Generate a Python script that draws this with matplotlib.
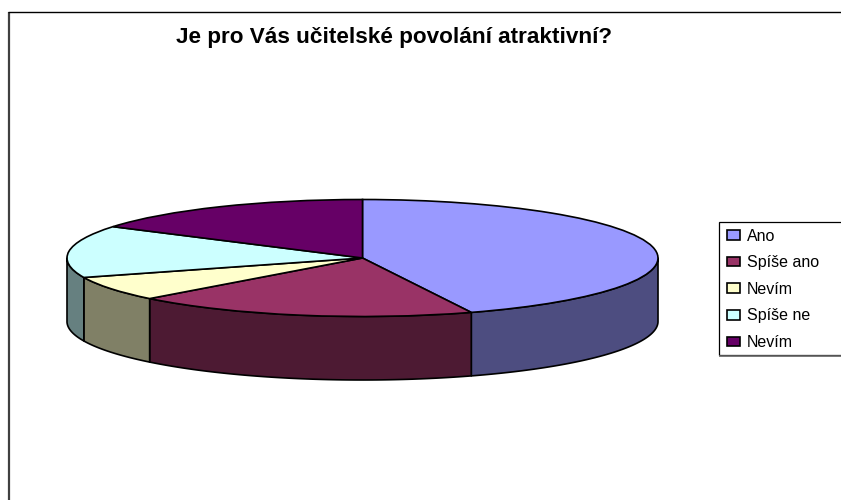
import numpy as np
import matplotlib
matplotlib.use('Agg')
import matplotlib.pyplot as plt
from matplotlib.lines import Line2D
from matplotlib.patches import Rectangle

plt.rcParams['font.family'] = ['Liberation Sans', 'DejaVu Sans']

labels = ['Ano', 'Spíše ano', 'Nevím', 'Spíše ne', 'Nevím']
values = [44, 18.8, 6.8, 14.4, 16]

top_colors = ['#9999FF', '#993366', '#FFFFCC', '#CCFFFF', '#660066']
side_colors = ['#4D4D80', '#4D1A33', '#808066', '#668080', '#330033']

W, H = 841, 500
CX, CY = 362.5, 258.0
RX, RY = 295.5, 58.5
DEPTH = 63.5 / RY  # wall height in axes units, the radius is 1


def fx(px):
    return px / W


def fy(px):
    return 1 - px / H


def draw_walls(ax):
    # only the front half of the rim (90..270 deg clockwise from the top) is visible
    edges = np.cumsum([0] + values) / sum(values) * 360
    for start, end, color in zip(edges[:-1], edges[1:], side_colors):
        a = max(start, 90)
        b = min(end, 270)
        if a >= b:
            continue
        t = np.radians(np.linspace(a, b, 80))
        x = np.sin(t)
        y = np.cos(t)
        ax.fill(np.r_[x, x[::-1]], np.r_[y, y[::-1] - DEPTH],
                facecolor=color, edgecolor='black', linewidth=1.2,
                joinstyle='round', clip_on=False)


fig = plt.figure(figsize=(W / 100, H / 100), dpi=100)

# the axes box is the ellipse's bounding box, so the unit pie squashes into it
ax = fig.add_axes([fx(CX - RX), fy(CY + RY), 2 * RX / W, 2 * RY / H])
draw_walls(ax)
wedges, _ = ax.pie(values, startangle=90, counterclock=False, colors=top_colors,
                   wedgeprops={'edgecolor': 'black', 'linewidth': 1.2, 'clip_on': False})
ax.set_xlim(-1, 1)
ax.set_ylim(-1, 1)
ax.set_aspect('auto')
ax.axis('off')

fig.text(fx(394.5), fy(37), 'Je pro Vás učitelské povolání atraktivní?',
         ha='center', va='center', fontsize=16.2, fontweight='bold', color='black')

# chart frame, only the left and top sides fall inside the figure
fig.add_artist(Line2D([fx(9), fx(9)], [fy(11.5), fy(500)], color='#404040', linewidth=1.6,
                      solid_capstyle='butt'))
fig.add_artist(Line2D([fx(8), fx(841)], [fy(11.5), fy(11.5)], color='black', linewidth=1,
                      solid_capstyle='butt'))

# legend box runs off the right edge
fig.add_artist(Rectangle((fx(719), fy(355)), fx(140), 133 / H, facecolor='white',
                         edgecolor='black', linewidth=0.9, transform=fig.transFigure))
fig.add_artist(Line2D([fx(719), fx(841)], [fy(355.5), fy(355.5)], color='#666666', linewidth=1.2,
                      solid_capstyle='butt'))
leg = fig.legend(wedges, labels, loc='upper left', bbox_to_anchor=(fx(727), fy(228.5)),
                 frameon=False, fontsize=11.5, borderpad=0, borderaxespad=0,
                 handlelength=0.8, handleheight=0.55, handletextpad=0.45, labelspacing=0.73)
leg.set_zorder(5)

fig.savefig('out.png', dpi=100)
